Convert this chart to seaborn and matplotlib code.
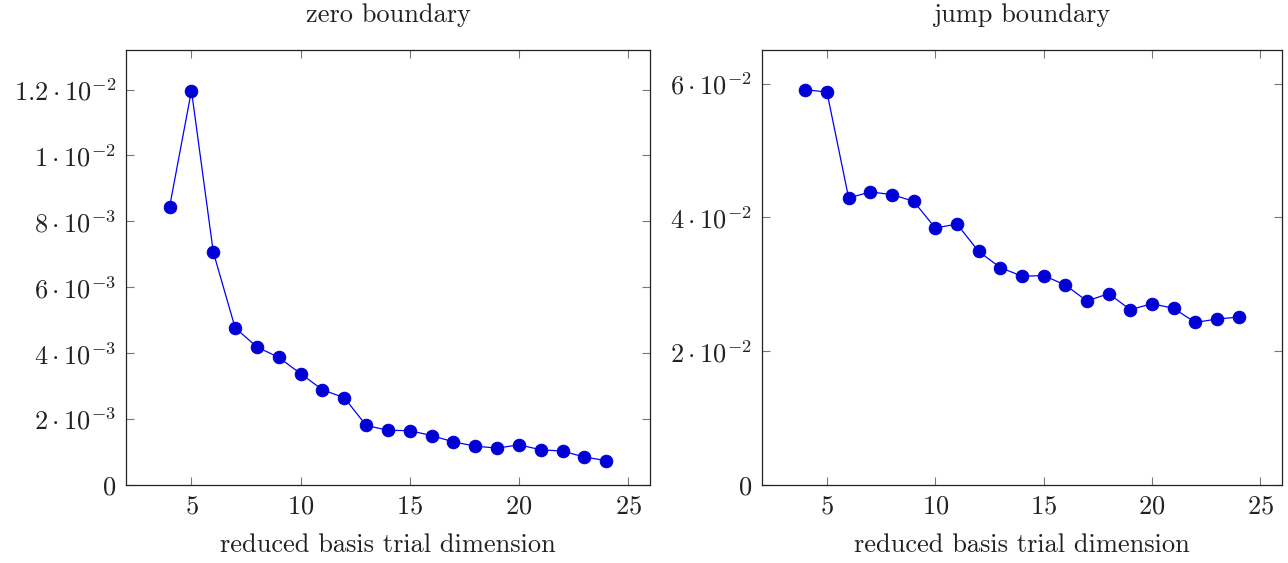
import numpy as np
import pandas as pd
import seaborn as sns
import matplotlib.pyplot as plt
from matplotlib.ticker import FixedLocator, FuncFormatter

# data
dims = list(range(4, 25))
zero_err = [8.45e-3, 11.97e-3, 7.07e-3, 4.77e-3, 4.19e-3, 3.87e-3, 3.38e-3,
            2.89e-3, 2.65e-3, 1.81e-3, 1.66e-3, 1.65e-3, 1.50e-3, 1.31e-3,
            1.18e-3, 1.12e-3, 1.22e-3, 1.07e-3, 1.03e-3, 0.85e-3, 0.74e-3]
jump_err = [5.91e-2, 5.87e-2, 4.29e-2, 4.38e-2, 4.34e-2, 4.24e-2, 3.84e-2,
            3.90e-2, 3.49e-2, 3.25e-2, 3.12e-2, 3.13e-2, 2.99e-2, 2.75e-2,
            2.86e-2, 2.62e-2, 2.71e-2, 2.64e-2, 2.43e-2, 2.48e-2, 2.51e-2]
titles = ["zero boundary", "jump boundary"]
xlabel = "reduced basis trial dimension"
x_ticks = [5, 10, 15, 20, 25]
zero_ticks = [0, 2e-3, 4e-3, 6e-3, 8e-3, 1e-2, 1.2e-2]
jump_ticks = [0, 2e-2, 4e-2, 6e-2]

sns.set_theme(style="ticks")
plt.rcParams["font.family"] = ["serif"]
plt.rcParams["font.serif"] = ["cmr10", "DejaVu Serif"]
plt.rcParams["mathtext.fontset"] = "cm"
plt.rcParams["axes.formatter.use_mathtext"] = True


def sci_label(v, pos):
    if v == 0:
        return "$0$"
    exp = int(np.floor(np.log10(abs(v)) + 1e-9))
    mant = v / 10 ** exp
    mant_s = ("%.1f" % mant).rstrip("0").rstrip(".")
    return r"$%s\cdot10^{%d}$" % (mant_s, exp)


df = pd.DataFrame({"dim": dims, "zero": zero_err, "jump": jump_err})

fig = plt.figure(figsize=(12.88, 5.63), dpi=100)
ax1 = fig.add_axes([0.0978, 0.1385, 0.4068, 0.7726])
ax2 = fig.add_axes([0.5916, 0.1385, 0.4037, 0.7726])

settings = [
    (ax1, "zero", zero_ticks, (0, 1.32e-2)),
    (ax2, "jump", jump_ticks, (0, 6.5e-2)),
]
for (ax, col, yt, ylim), title in zip(settings, titles):
    sns.lineplot(data=df, x="dim", y=col, ax=ax, color="#0000ff", lw=0.9,
                 marker="o", markersize=9, markerfacecolor="#0000d6",
                 markeredgecolor="#0000d6")
    ax.set_xlim(2, 26)
    ax.set_ylim(*ylim)
    ax.xaxis.set_major_locator(FixedLocator(x_ticks))
    ax.yaxis.set_major_locator(FixedLocator(yt))
    ax.yaxis.set_major_formatter(FuncFormatter(sci_label))
    ax.tick_params(direction="in", length=6, width=0.8, color="#777777",
                   top=True, right=True, labelsize=19, pad=7,
                   labelcolor="#222222")
    for s in ax.spines.values():
        s.set_linewidth(0.9)
        s.set_color("#222222")
    ax.set_xlabel(xlabel, fontsize=19, color="#222222", labelpad=11)
    ax.set_ylabel("")
    ax.set_title(title, fontsize=19, color="#222222", pad=20)

fig.savefig("out.png", dpi=100)
